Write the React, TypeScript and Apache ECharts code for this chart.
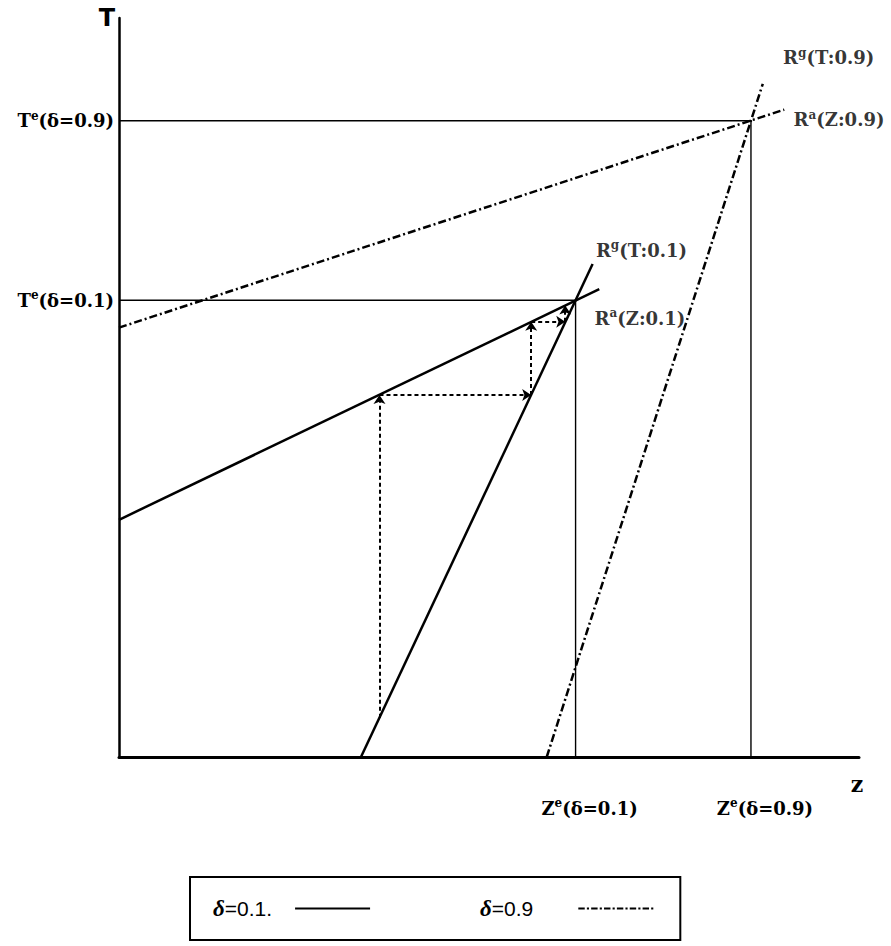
import React, { useEffect, useRef } from "react";
import * as echarts from "echarts";

// Reaction curves (x: Z, y: T, both on a 0..10 scale)
const raLow = [[0, 3.21], [6.49, 6.33]]; // R^a(Z:0.1)
const rgLow = [[3.27, 0], [6.4, 6.67]]; // R^g(T:0.1)
const raHigh = [[0, 5.81], [8.99, 8.76]]; // R^a(Z:0.9)
const rgHigh = [[5.78, 0], [8.7, 9.11]]; // R^g(T:0.9)

// Equilibria
const eqLow = [[0, 6.18], [6.17, 6.18], [6.17, 0]];
const eqHigh = [[0, 8.61], [8.54, 8.61], [8.54, 0]];

// Cobweb adjustment path (dashed arrows)
const cobweb = [[3.52, 0.53], [3.52, 4.9], [5.57, 4.9], [5.57, 5.89], [6.03, 5.89], [6.03, 6.11]];

// Tick labels
const yTickValues = [6.18, 8.61];
const yTickLabels = ["{b|T}{s|e}{b|(δ=0.1)}", "{b|T}{s|e}{b|(δ=0.9)}"];
const xTickValues = [6.17, 8.54];
const xTickLabels = ["{b|Z}{s|e}{b|(δ=0.1)}", "{b|Z}{s|e}{b|(δ=0.9)}"];

// Curve labels
const curveLabelPos = [[9.59, 9.46], [9.73, 8.62], [7.06, 6.86], [7.04, 5.94]];
const curveLabelText = [
  "{b|R}{s|g}{b|(T:0.9)}",
  "{b|R}{s|a}{b|(Z:0.9)}",
  "{b|R}{s|g}{b|(T:0.1)}",
  "{b|R}{s|a}{b|(Z:0.1)}",
];

const legendNames = ["δ=0.1", "δ=0.9"];

const LABEL_FONT = "DejaVu Serif";
const rich = {
  b: { fontFamily: LABEL_FONT, fontWeight: "bold", fontSize: 18, lineHeight: 22, color: "#000" },
  s: { fontFamily: LABEL_FONT, fontWeight: "bold", fontSize: 12, lineHeight: 22, verticalAlign: "top", color: "#000" },
};

function dashDotIcon() {
  let d = "path://";
  for (let k = 0; k < 6; k++) {
    const x = 12 * k;
    d += `M${x},0h6v2h-6z M${x + 8},0h2v2h-2z `;
  }
  return d.trim();
}

export default function App() {
  const ref = useRef<HTMLDivElement>(null);
  useEffect(() => {
    if (!ref.current) return;
    const chart = echarts.init(ref.current, null, { renderer: "svg" });
    const solid = { color: "#000", width: 2.5, type: "solid" };
    const dashDot = { color: "#000", width: 2.5, type: [8, 3, 2, 3] };
    const thin = { color: "#000", width: 1.4, type: "solid" };
    const segs = [];
    for (let i = 0; i < cobweb.length - 1; i++) {
      segs.push({ coords: [cobweb[i], cobweb[i + 1]] });
    }
    chart.setOption({
      animation: false,
      backgroundColor: "#fff",
      grid: { left: 119, right: 32, top: 18, bottom: 189, containLabel: false },
      xAxis: {
        type: "value",
        min: 0,
        max: 10,
        name: "z",
        nameLocation: "end",
        nameGap: -2,
        nameTextStyle: {
          fontFamily: LABEL_FONT,
          fontWeight: "bold",
          fontSize: 22,
          color: "#000",
          align: "center",
          verticalAlign: "top",
          padding: [16, 0, 0, 0],
        },
        axisLine: { show: true, lineStyle: { color: "#000", width: 3 } },
        axisTick: { show: false },
        splitLine: { show: false },
        axisLabel: {
          customValues: xTickValues,
          margin: 40,
          padding: [0, 0, 0, 28],
          color: "#000",
          formatter: (v: number) => {
            const i = xTickValues.indexOf(v);
            return i >= 0 ? xTickLabels[i] : "";
          },
          rich,
        },
      },
      yAxis: {
        type: "value",
        min: 0,
        max: 10,
        name: "T",
        nameLocation: "end",
        nameGap: 0,
        nameTextStyle: {
          fontFamily: "DejaVu Sans",
          fontWeight: "bold",
          fontSize: 24,
          color: "#000",
          align: "right",
          verticalAlign: "middle",
          padding: [0, 4, 0, 0],
        },
        axisLine: { show: true, lineStyle: { color: "#000", width: 2.5 } },
        axisTick: { show: false },
        splitLine: { show: false },
        axisLabel: {
          customValues: yTickValues,
          margin: 5,
          color: "#000",
          formatter: (v: number) => {
            const i = yTickValues.indexOf(v);
            return i >= 0 ? yTickLabels[i] : "";
          },
          rich,
        },
      },
      legend: {
        data: [
          { name: legendNames[0], icon: "path://M0,0H70V2H0Z" },
          { name: legendNames[1], icon: dashDotIcon() },
        ],
        left: 190,
        top: 877,
        orient: "horizontal",
        align: "right",
        padding: [20, 27, 20, 23],
        itemGap: 110,
        itemWidth: 75,
        itemHeight: 2,
        symbolKeepAspect: false,
        borderColor: "#000",
        borderWidth: 2,
        borderRadius: 0,
        selectedMode: false,
        itemStyle: { borderWidth: 0 },
        formatter: (name: string) =>
          name === legendNames[0] ? "{d|δ}{n|=0.1.}{s1|}" : "{d|δ}{n|=0.9}{s2|}",
        textStyle: {
          color: "#000",
          rich: {
            d: { fontFamily: "Liberation Serif", fontStyle: "italic", fontWeight: "bold", fontSize: 23, lineHeight: 24, color: "#000" },
            n: { fontFamily: "Liberation Sans", fontSize: 21, lineHeight: 24, color: "#000" },
            s1: { width: 18 },
            s2: { width: 40 },
          },
        },
      },
      series: [
        { name: "eqLow", type: "line", data: eqLow, symbol: "none", lineStyle: thin, silent: true, z: 1 },
        { name: "eqHigh", type: "line", data: eqHigh, symbol: "none", lineStyle: thin, silent: true, z: 1 },
        { name: legendNames[0], type: "line", data: raLow, symbol: "none", color: "#000", itemStyle: { color: "#000" }, lineStyle: solid, silent: true, z: 3 },
        { name: legendNames[0], type: "line", data: rgLow, symbol: "none", color: "#000", itemStyle: { color: "#000" }, lineStyle: solid, silent: true, z: 3 },
        { name: legendNames[1], type: "line", data: raHigh, symbol: "none", color: "#000", itemStyle: { color: "#000" }, lineStyle: dashDot, silent: true, z: 3 },
        { name: legendNames[1], type: "line", data: rgHigh, symbol: "none", color: "#000", itemStyle: { color: "#000" }, lineStyle: dashDot, silent: true, z: 3 },
        {
          name: "cobweb",
          type: "lines",
          coordinateSystem: "cartesian2d",
          data: segs,
          symbol: ["none", "arrow"],
          symbolSize: 9,
          lineStyle: { color: "#000", width: 2, type: [4, 3], opacity: 1 },
          silent: true,
          z: 2,
        },
        {
          name: "curveLabels",
          type: "scatter",
          data: curveLabelPos,
          symbolSize: 0,
          silent: true,
          itemStyle: { color: "#000" },
          label: {
            show: true,
            position: "inside",
            color: "#000",
            textBorderWidth: 0,
            formatter: (p: any) => curveLabelText[p.dataIndex],
            rich,
          },
          z: 4,
        },
      ],
    });
    return () => chart.dispose();
  }, []);
  return <div ref={ref} style={{ position: "absolute", left: 0, top: 0, width: 891, height: 946 }} />;
}
